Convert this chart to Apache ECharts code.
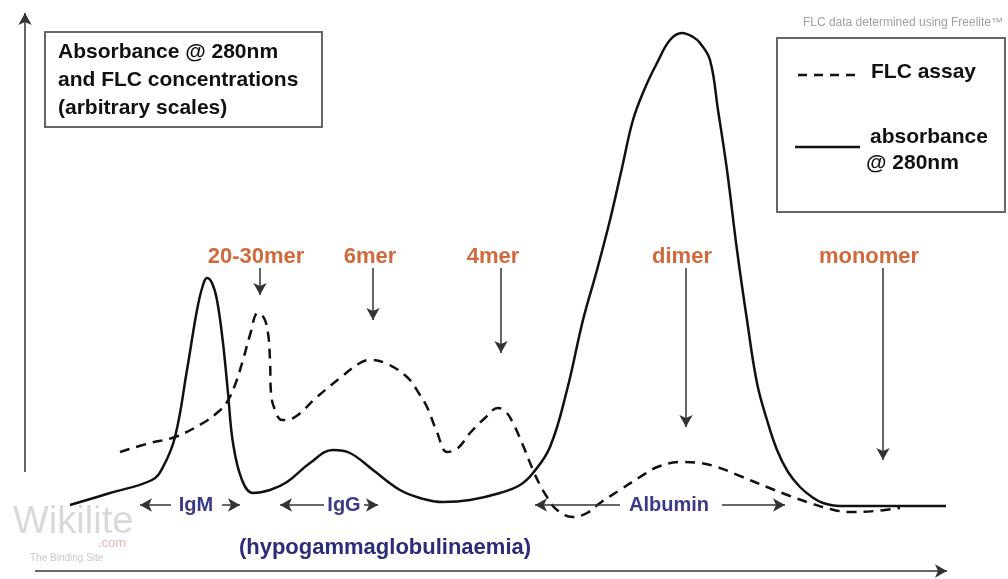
<!DOCTYPE html>
<html>
<head>
<meta charset="utf-8">
<script src="https://cdn.jsdelivr.net/npm/echarts@6/dist/echarts.min.js"></script>
<style>
html,body{margin:0;padding:0;background:#fff;}
#chart{width:1008px;height:579px;}
</style>
</head>
<body>
<div id="chart"></div>
<script>
// ---- Data (arbitrary units: elution position vs signal) ----
const absX = [4.5,8.5,12.7,13.8,15.0,16.2,17.2,17.8,18.2,18.7,19.2,19.8,20.3,20.8,21.7,22.8,24.5,26.2,28.5,30.8,32.5,34.8,37.5,39.5,41.8,44.5,47.5,49.5,50.8,52.5,54.2,55.8,57.2,58.5,59.7,60.8,62.0,63.2,64.5,65.7,66.8,67.5,68.5,69.3,70.2,71.2,72.2,73.2,74.2,75.2,76.3,77.5,78.7,79.8,81.5,87.5,92.1];
const absY = [6.6,7.8,9.1,10.4,13.4,20.1,26.1,28.6,29.3,28.8,27.1,22.8,17.8,12.8,9.1,7.8,8.1,8.9,10.8,12.1,11.8,10.1,8.1,7.3,6.9,7.1,7.8,8.6,9.8,12.4,18.1,25.1,30.1,35.1,40.3,45.1,48.3,50.8,53.1,53.8,53.4,52.8,51.1,46.1,40.1,32.1,25.1,18.8,15.1,12.1,9.9,8.4,7.4,6.8,6.5,6.5,6.5];
const flcX = [9.5,12.5,15.0,17.8,19.3,20.2,21.0,21.8,22.5,23.3,23.9,24.3,24.5,24.6,25.0,25.7,27.0,29.2,31.5,33.5,34.5,36.0,38.2,39.5,40.2,41.2,42.2,43.3,44.5,46.0,47.3,48.1,48.8,49.7,50.8,51.5,52.2,53.2,54.8,56.2,57.5,59.5,61.5,63.5,65.8,67.5,69.2,71.5,74.2,76.5,78.5,80.5,82.5,85.0,87.5];
const flcY = [11.9,12.8,13.4,14.8,15.9,16.9,18.6,21.1,23.6,25.8,25.3,23.8,21.1,17.8,16.1,15.1,15.4,17.4,19.3,20.8,21.1,20.8,19.4,17.6,16.4,13.9,11.9,12.3,13.8,15.3,16.3,15.9,14.8,12.8,10.1,8.6,7.4,6.1,5.4,5.8,6.8,8.1,9.4,10.5,10.9,10.8,10.4,9.5,8.4,7.5,6.8,6.2,5.9,6.0,6.3];

const peakNames = ['20-30mer','6mer','4mer','dimer','monomer'];
const peakLabelX = [23.1,34.5,46.8,65.7,84.4];
const peakArrowX = [23.5,34.8,47.6,66.1,85.8];
const peakArrowEndY = [27.6,25.1,21.8,14.4,11.1];

const regionNames = ['IgM','IgG','Albumin'];
const regionLabelX = [17.1,31.9,64.4];
const regionLeftTip = [11.5,25.5,51.0];
const regionLeftStart = [14.6,29.9,59.5];
const regionRightStart = [19.7,33.9,69.7];
const regionRightTip = [21.5,35.3,76.0];

const subtitleText = '(hypogammaglobulinaemia)';

// ---- Chart ----
const FONT = '"Liberation Sans", Arial, sans-serif';
const chart = echarts.init(document.getElementById('chart'));
const labelY = 31.4, arrowTopY = 30.3, regionY = 6.6;

const markArrows = [];
peakArrowX.forEach((x,i)=>{
  markArrows.push([{coord:[x,arrowTopY]},{coord:[x,peakArrowEndY[i]]}]);
});
regionNames.forEach((n,i)=>{
  markArrows.push([{coord:[regionLeftStart[i],regionY]},{coord:[regionLeftTip[i],regionY]}]);
  markArrows.push([{coord:[regionRightStart[i],regionY]},{coord:[regionRightTip[i],regionY]}]);
});

function textLabel(color, size){
  return {show:true, position:'inside', formatter:'{b}', color:color,
    fontSize:size, fontWeight:'bold', fontFamily:FONT, opacity:1,
    textBorderWidth:0, textBorderColor:'transparent', textShadowBlur:0};
}

const option = {
  animation:false,
  backgroundColor:'#ffffff',
  grid:{left:25, top:13, width:922, height:558},
  xAxis:{type:'value', min:0, max:92.2, show:false},
  yAxis:{type:'value', min:0, max:55.8, show:false},
  series:[
    {
      name:'absorbance @ 280nm', type:'line', smooth:0.4,
      symbol:'none', clip:false,
      data: absX.map((x,i)=>[x,absY[i]]),
      lineStyle:{color:'#111', width:2.5}
    },
    {
      name:'FLC assay', type:'line', smooth:0.4,
      symbol:'none', clip:false,
      data: flcX.map((x,i)=>[x,flcY[i]]),
      lineStyle:{color:'#111', width:2.5, type:[10,7]}
    },
    {
      name:'annotations', type:'line', data:[], clip:false, silent:true,
      markLine:{
        silent:true, animation:false, symbol:['none','arrow'], symbolSize:[10,12],
        label:{show:false}, lineStyle:{color:'#333', width:1.5, type:'solid'},
        emphasis:{disabled:true},
        data: markArrows.concat([
          [{coord:[0,9.9]},{coord:[0,55.8]}],
          [{coord:[1.0,0]},{coord:[92.2,0]}]
        ])
      }
    },
    {
      name:'peaks', type:'scatter', symbolSize:0, silent:true, clip:false,
      itemStyle:{color:'#fff', opacity:1},
      data: peakNames.map((n,i)=>({name:n, value:[peakLabelX[i], labelY]})),
      label:textLabel('#d06a3c', 22)
    },
    {
      name:'regions', type:'scatter', symbolSize:0, silent:true, clip:false,
      itemStyle:{color:'#fff', opacity:1},
      data: regionNames.map((n,i)=>({name:n, value:[regionLabelX[i], regionY]})),
      label:textLabel('#3a3a88', 20)
    },
    {
      name:'subtitle', type:'scatter', symbolSize:0, silent:true, clip:false,
      itemStyle:{color:'#fff', opacity:1},
      data:[{name:subtitleText, value:[36.0, 2.3]}],
      label:textLabel('#2c2c78', 22)
    }
  ],
  graphic:[
    {type:'rect', shape:{x:45,y:32,width:277,height:95}, style:{fill:'#fff', stroke:'#666', lineWidth:2}, z:1},
    {type:'text', x:58, y:52, z:5, style:{text:'Absorbance @ 280nm', font:'bold 21px '+FONT, fill:'#111', textVerticalAlign:'middle'}},
    {type:'text', x:58, y:80, z:5, style:{text:'and FLC concentrations', font:'bold 21px '+FONT, fill:'#111', textVerticalAlign:'middle'}},
    {type:'text', x:58, y:108, z:5, style:{text:'(arbitrary scales)', font:'bold 21px '+FONT, fill:'#111', textVerticalAlign:'middle'}},

    {type:'text', x:1003, y:23, style:{text:'FLC data determined using Freelite\u2122', font:'12px '+FONT, fill:'#a0a0a0', textAlign:'right', textVerticalAlign:'middle'}},
    {type:'rect', shape:{x:777,y:38,width:228,height:174}, style:{fill:'#fff', stroke:'#666', lineWidth:2}, z:1},
    {type:'line', z:5, shape:{x1:798,y1:75,x2:860,y2:75}, style:{stroke:'#111', lineWidth:2.5, lineDash:[9,7]}},
    {type:'text', x:871, y:72, z:5, style:{text:'FLC assay', font:'bold 21px '+FONT, fill:'#111', textVerticalAlign:'middle'}},
    {type:'line', z:5, shape:{x1:795,y1:147,x2:860,y2:147}, style:{stroke:'#111', lineWidth:2.5}},
    {type:'text', x:870, y:137, z:5, style:{text:'absorbance', font:'bold 21px '+FONT, fill:'#111', textVerticalAlign:'middle'}},
    {type:'text', x:866, y:163, z:5, style:{text:'@ 280nm', font:'bold 21px '+FONT, fill:'#111', textVerticalAlign:'middle'}},

    {type:'text', x:13, y:523, style:{text:'Wikilite', font:'38px '+FONT, fill:'#d9d9d9', textVerticalAlign:'middle'}},
    {type:'text', x:98, y:543, style:{text:'.com', font:'13px '+FONT, fill:'#e8b4b4', textVerticalAlign:'middle'}},
    {type:'text', x:30, y:558, style:{text:'The Binding Site', font:'10px '+FONT, fill:'#c8c8c8', textVerticalAlign:'middle'}}
  ]
};
chart.setOption(option);
</script>
</body>
</html>
